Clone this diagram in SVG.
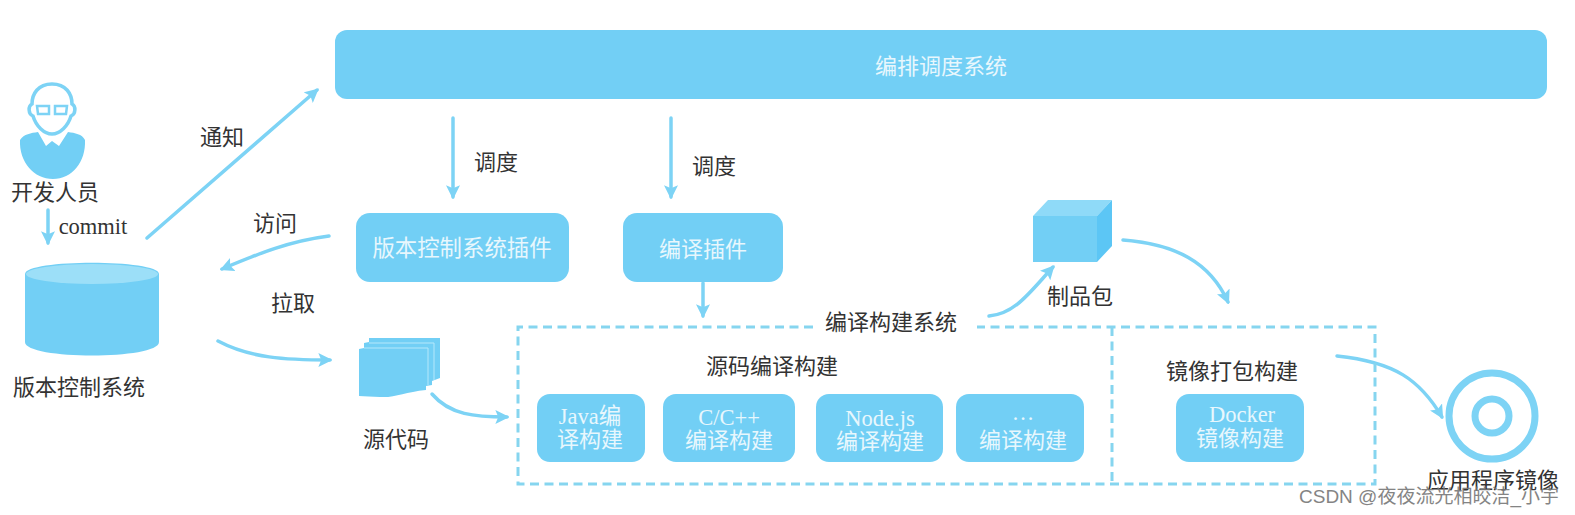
<svg xmlns="http://www.w3.org/2000/svg" width="1575" height="515" viewBox="0 0 1575 515">
<style>
text{font-family:"Liberation Serif","Noto Sans CJK SC",serif;font-size:22px;fill:#333;text-anchor:middle}
text.w{fill:#e8f7fd}
text.l{font-size:22.500px}
.b{fill:#72cff5}
.c{fill:none;stroke:#7dd3f5;stroke-width:3.500;stroke-linecap:round}
.d{fill:none;stroke:#86d5ef;stroke-width:3;stroke-dasharray:9 5.500}
</style>
<defs>
<marker id="a" viewBox="0 0 12 12" refX="10" refY="6" markerWidth="14" markerHeight="14" markerUnits="userSpaceOnUse" orient="auto"><path d="M0 0L12 6L0 12L2.500 6Z" fill="#7dd3f5"/></marker>
</defs>
<rect width="1575" height="515" fill="#fff"/>
<g id="connectors">
<path class="c" d="M48 210V243" marker-end="url(#a)"/>
<path class="c" d="M147 238L317 90" marker-end="url(#a)"/>
<path class="c" d="M329 236C290 241 260 253 222 269" marker-end="url(#a)"/>
<path class="c" d="M218 341C250 358 285 360 330 360" marker-end="url(#a)"/>
<path class="c" d="M453 118V197" marker-end="url(#a)"/>
<path class="c" d="M671 118V197" marker-end="url(#a)"/>
<path class="c" d="M703 283V316" marker-end="url(#a)"/>
<path class="c" d="M432 394C450 415 475 417 507 417" marker-end="url(#a)"/>
<path class="c" d="M989 316C1015 314 1030 292 1053 267" marker-end="url(#a)"/>
<path class="c" d="M1123 240C1175 244 1210 262 1228 302" marker-end="url(#a)"/>
<path class="c" d="M1337 356C1395 362 1420 380 1442 417" marker-end="url(#a)"/>
</g>
<g id="orchestration"><rect class="b" x="335" y="30" width="1212" height="69" rx="12"/><text class="w" x="941" y="74">编排调度系统</text></g>
<g id="developer">
<path d="M52 84C66 84 72 94 72 104C76 106 76 114 71 116C68 126 60 134 52 134C44 134 36 126 33 116C28 114 28 106 32 104C32 94 38 84 52 84Z" fill="#fff" stroke="#7dd3f5" stroke-width="3.500"/>
<path d="M37 106H49V114H38ZM55 106H67L66 114H55Z" fill="#fff" stroke="#7dd3f5" stroke-width="2.500"/>
<path class="b" d="M20 140C24 134 31 133 38 132L46 146L52 141L59 146L68 132C75 133 82 134 85 140C86 162 72 179 53 179C34 179 19 162 20 140Z"/>
<text x="55" y="200">开发人员</text>
<text class="l" x="93" y="234">commit</text>
</g>
<g id="vcs">
<path class="b" d="M25 274C25 259 159 259 159 274V342C159 360 25 360 25 342Z"/>
<ellipse cx="92" cy="274" rx="66" ry="10" fill="#9cdff8"/>
<text x="79" y="395">版本控制系统</text>
</g>
<g id="labels">
<text x="222" y="145">通知</text>
<text x="275" y="231">访问</text>
<text x="293" y="311">拉取</text>
<text x="496" y="170">调度</text>
<text x="714" y="174">调度</text>
</g>
<g id="vcs-plugin"><rect class="b" x="356" y="213" width="213" height="69" rx="14"/><text class="w" x="462" y="256" style="font-size:22.400px">版本控制系统插件</text></g>
<g id="compile-plugin"><rect class="b" x="623" y="213" width="160" height="69" rx="14"/><text class="w" x="703" y="257">编译插件</text></g>
<g id="source">
<path class="b" d="M369 338H440V378L432 381V385L426 386V390C405 392 395 398 380 397C372 397 365 396 359 396V349L364 348V343L369 342Z"/>
<path d="M364 348H428V385M369 343H434V380" fill="none" stroke="#b5e8fb" stroke-width="1"/>
<text x="396" y="447">源代码</text>
</g>
<g id="build-system">
<path class="d" d="M813 327H518V484H1375V327H977"/>
<path class="d" d="M1112 327V484"/>
<text x="891" y="330">编译构建系统</text>
<text x="772" y="374">源码编译构建</text>
<text x="1232" y="379">镜像打包构建</text>
</g>
<g id="java"><rect class="b" x="537" y="394" width="108" height="68" rx="13"/><text class="w l" x="590" y="424">Java编</text><text class="w" x="590" y="447">译构建</text></g>
<g id="cpp"><rect class="b" x="663" y="394" width="132" height="68" rx="13"/><text class="w l" x="729" y="425">C/C++</text><text class="w" x="729" y="448">编译构建</text></g>
<g id="node"><rect class="b" x="816" y="394" width="127" height="68" rx="13"/><text class="w l" x="880" y="426">Node.js</text><text class="w" x="880" y="449">编译构建</text></g>
<g id="other"><rect class="b" x="956" y="394" width="128" height="68" rx="13"/><text class="w l" x="1023" y="420">…</text><text class="w" x="1023" y="448">编译构建</text></g>
<g id="docker"><rect class="b" x="1176" y="394" width="128" height="68" rx="13"/><text class="w l" x="1242" y="422">Docker</text><text class="w" x="1240" y="446">镜像构建</text></g>
<g id="artifact">
<rect class="b" x="1033" y="216" width="64" height="46"/>
<path d="M1033 216L1048 200H1112L1097 216Z" fill="#8fdaf8"/>
<path d="M1097 216L1112 200V246L1097 262Z" fill="#5cc6f5"/>
<text x="1080" y="304">制品包</text>
</g>
<g id="app-image">
<circle cx="1492" cy="416" r="43" fill="none" stroke="#7dd3f5" stroke-width="7"/>
<circle cx="1492" cy="416" r="17" fill="none" stroke="#7dd3f5" stroke-width="7"/>
<text x="1493" y="488">应用程序镜像</text>
</g>
<text id="watermark" x="1429" y="503" style="font-family:'Liberation Sans','Noto Sans CJK SC',sans-serif;font-size:19px;fill:#777" opacity=".9">CSDN @夜夜流光相皎洁_小宇</text>
</svg>
